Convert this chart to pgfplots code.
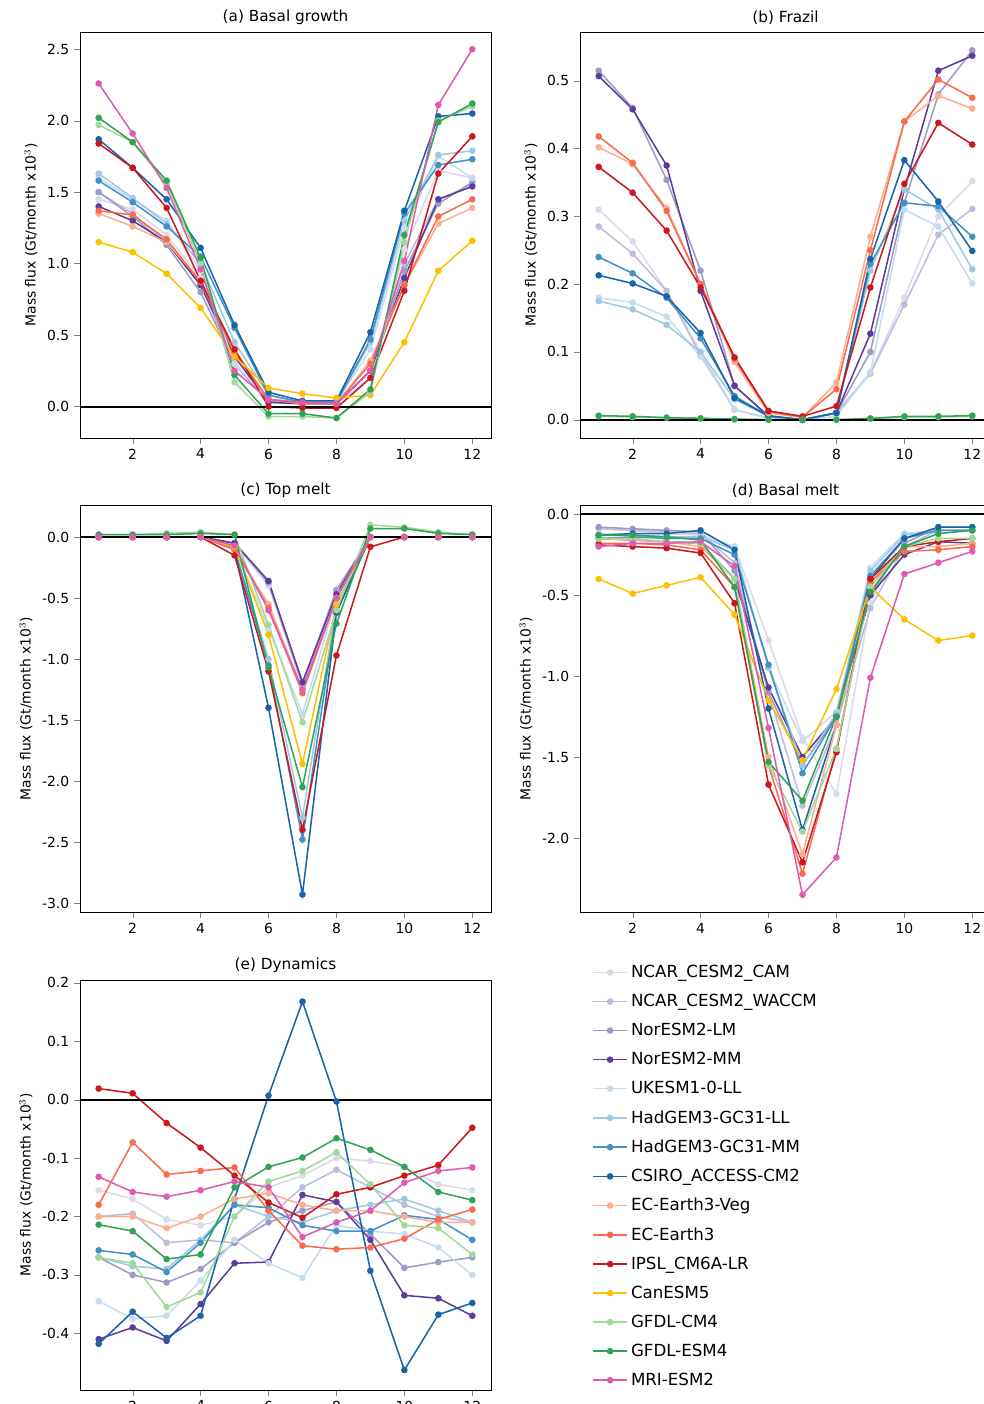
\documentclass[border=0pt]{standalone}
\usepackage{pgfplots}
\pgfplotsset{compat=1.18}
\usepackage{fontspec}
\setmainfont{DejaVu Sans}
\definecolor{c1}{HTML}{DADAEB}\definecolor{c2}{HTML}{BCBDDC}\definecolor{c3}{HTML}{9E9AC8}\definecolor{c4}{HTML}{5E3C99}
\definecolor{c5}{HTML}{C6DBEF}\definecolor{c6}{HTML}{9ECAE1}\definecolor{c7}{HTML}{4292C6}\definecolor{c8}{HTML}{1764AB}
\definecolor{c9}{HTML}{FCAE91}\definecolor{c10}{HTML}{FB6A4A}\definecolor{c11}{HTML}{CB181D}\definecolor{c12}{HTML}{FFBF00}
\definecolor{c13}{HTML}{A1D99B}\definecolor{c14}{HTML}{31A354}\definecolor{c15}{HTML}{DD5CB0}
\pgfplotscreateplotcyclelist{mods}{
c1,mark=*\\c2,mark=*\\c3,mark=*\\c4,mark=*\\c5,mark=*\\c6,mark=*\\c7,mark=*\\c8,mark=*\\
c9,mark=*\\c10,mark=*\\c11,mark=*\\c12,mark=*\\c13,mark=*\\c14,mark=*\\c15,mark=*\\}
\newcommand\D[1]{\addplot table[header=false,x expr=\coordindex+1,y index=0,row sep=\\]{#1};}
\newcommand\E[2]{\addplot[#1,mark=*] table[header=false,x expr=\coordindex+1,y index=0,row sep=\\]{#2};}
\pgfplotsset{
 base/.style={scale only axis, width=295.9pt, anchor=south west, xmin=0.45, xmax=12.55,
 xtick={2,4,...,12}, cycle list name=mods, every axis plot/.append style={line width=1.1pt, mark size=1.8pt},
 /pgf/number format/assume math mode=true, tick label style={font=\fontsize{10}{12}\selectfont},
 title style={font=\fontsize{11}{13}\selectfont, yshift=-4pt},
 label style={font=\fontsize{10}{12}\selectfont},
 ylabel={Mass flux (Gt/month x10$^3$)}, tick align=outside, tick pos=left,
 execute at end axis={\draw[black,line width=1.4pt] ({rel axis cs:0,0}|-{axis cs:1,0}) -- ({rel axis cs:1,0}|-{axis cs:1,0});}}}
\begin{document}
\begin{tikzpicture}
\useasboundingbox (0,0) rectangle (708.48pt,1010.88pt);
% (a)
\begin{axis}[base, at={(57.6pt,695.5pt)}, height=292.3pt, ymin=-0.22, ymax=2.62, ytick={0,0.5,...,2.5},
 yticklabel style={/pgf/number format/.cd,fixed,fixed zerofill,precision=1}, title={(a) Basal growth}]
\D{1.45\\1.38\\1.2\\0.9\\0.3\\0.05\\0.02\\0.02\\0.2\\1.1\\1.65\\1.6\\}
\D{1.5\\1.35\\1.15\\0.85\\0.3\\0.04\\0.02\\0.02\\0.25\\1.0\\1.45\\1.55\\}
\D{1.5\\1.33\\1.13\\0.8\\0.3\\0.03\\0.02\\0.02\\0.25\\0.95\\1.42\\1.57\\}
\D{1.4\\1.3\\1.15\\0.85\\0.35\\0.03\\0.02\\0.02\\0.25\\0.9\\1.45\\1.54\\}
\D{1.6\\1.45\\1.3\\0.95\\0.3\\0.05\\0.03\\0.03\\0.4\\1.25\\1.75\\1.6\\}
\D{1.63\\1.46\\1.28\\1.0\\0.45\\0.08\\0.03\\0.03\\0.45\\1.3\\1.76\\1.79\\}
\D{1.58\\1.43\\1.26\\1.05\\0.55\\0.08\\0.03\\0.03\\0.47\\1.35\\1.69\\1.73\\}
\D{1.87\\1.67\\1.45\\1.11\\0.57\\0.1\\0.04\\0.04\\0.52\\1.37\\2.03\\2.05\\}
\D{1.35\\1.26\\1.15\\0.88\\0.4\\0.05\\0.02\\0.02\\0.32\\0.85\\1.28\\1.39\\}
\D{1.37\\1.34\\1.17\\0.87\\0.38\\0.05\\0.02\\0.02\\0.3\\0.85\\1.33\\1.45\\}
\D{1.84\\1.67\\1.39\\0.88\\0.4\\0.0\\-0.01\\-0.01\\0.2\\0.81\\1.63\\1.89\\}
\D{1.15\\1.08\\0.93\\0.69\\0.35\\0.13\\0.09\\0.06\\0.08\\0.45\\0.95\\1.16\\}
\D{1.97\\1.85\\1.56\\1.0\\0.17\\-0.07\\-0.07\\-0.08\\0.1\\1.15\\2.0\\2.1\\}
\D{2.02\\1.85\\1.58\\1.04\\0.22\\-0.05\\-0.05\\-0.08\\0.12\\1.2\\1.99\\2.12\\}
\D{2.26\\1.91\\1.53\\0.96\\0.25\\0.05\\0.03\\0.02\\0.25\\1.02\\2.11\\2.5\\}
\end{axis}
% (b)
\begin{axis}[base, at={(417.6pt,695.5pt)}, height=292.3pt, ymin=-0.027, ymax=0.572, ytick={0,0.1,...,0.5},
 yticklabel style={/pgf/number format/.cd,fixed,fixed zerofill,precision=1}, title={(b) Frazil}]
\D{0.31\\0.263\\0.19\\0.1\\0.015\\0.002\\0\\0.01\\0.07\\0.18\\0.3\\0.352\\}
\D{0.285\\0.245\\0.19\\0.095\\0.015\\0.002\\0\\0.01\\0.068\\0.17\\0.273\\0.311\\}
\D{0.515\\0.46\\0.354\\0.22\\0.05\\0.005\\0\\0.01\\0.1\\0.32\\0.48\\0.545\\}
\D{0.507\\0.458\\0.375\\0.19\\0.05\\0.005\\0\\0.01\\0.127\\0.34\\0.515\\0.537\\}
\D{0.18\\0.173\\0.152\\0.093\\0.015\\0.002\\0\\0.005\\0.07\\0.31\\0.285\\0.201\\}
\D{0.175\\0.163\\0.14\\0.1\\0.03\\0.005\\0\\0.01\\0.22\\0.34\\0.31\\0.222\\}
\D{0.24\\0.216\\0.18\\0.12\\0.035\\0.005\\0\\0.01\\0.23\\0.32\\0.315\\0.27\\}
\D{0.213\\0.201\\0.182\\0.128\\0.032\\0.006\\0\\0.01\\0.237\\0.383\\0.322\\0.249\\}
\D{0.402\\0.377\\0.312\\0.2\\0.085\\0.01\\0.003\\0.055\\0.27\\0.44\\0.478\\0.459\\}
\D{0.418\\0.379\\0.308\\0.2\\0.09\\0.012\\0.004\\0.045\\0.25\\0.44\\0.502\\0.475\\}
\D{0.373\\0.335\\0.279\\0.195\\0.092\\0.013\\0.005\\0.02\\0.195\\0.348\\0.438\\0.406\\}
\E{c13}{0.005\\0.004\\0.003\\0.002\\0\\0\\0\\0\\0.001\\0.004\\0.004\\0.005\\}
\E{c14}{0.006\\0.005\\0.003\\0.002\\0.001\\0\\0\\0\\0.002\\0.005\\0.005\\0.006\\}
\end{axis}
% (c)
\begin{axis}[base, at={(57.6pt,354.2pt)}, height=293pt, ymin=-3.074, ymax=0.262, ytick={-3,-2.5,...,0},
 yticklabel style={/pgf/number format/.cd,fixed,fixed zerofill,precision=1}, title={(c) Top melt}]
\D{0\\0\\0\\0\\-0.05\\-0.4\\-1.2\\-0.45\\0\\0\\0\\0\\}
\D{0\\0\\0\\0\\-0.05\\-0.38\\-1.22\\-0.43\\0\\0\\0\\0\\}
\D{0\\0\\0\\0\\-0.05\\-0.37\\-1.2\\-0.44\\0\\0\\0\\0\\}
\D{0\\0\\0\\0\\-0.05\\-0.36\\-1.19\\-0.47\\0\\0\\0\\0\\}
\D{0\\0\\0\\0\\-0.08\\-0.75\\-1.45\\-0.5\\0\\0\\0\\0\\}
\D{0\\0\\0\\0\\-0.1\\-1.0\\-2.3\\-0.55\\0\\0\\0\\0\\}
\D{0\\0\\0\\0\\-0.1\\-1.05\\-2.48\\-0.6\\0\\0\\0\\0\\}
\D{0\\0\\0\\0\\-0.1\\-1.4\\-2.93\\-0.62\\0\\0\\0\\0\\}
\D{0\\0\\0\\0\\-0.1\\-0.55\\-1.25\\-0.5\\0\\0\\0\\0\\}
\D{0\\0\\0\\0\\-0.1\\-0.58\\-1.28\\-0.5\\0\\0\\0\\0\\}
\D{0\\0\\0\\0\\-0.15\\-1.1\\-2.4\\-0.97\\-0.08\\0\\0\\0\\}
\D{0\\0\\0\\0\\-0.08\\-0.8\\-1.86\\-0.55\\0\\0\\0\\0\\}
\D{0.02\\0.02\\0.03\\0.04\\0.02\\-0.72\\-1.52\\-0.6\\0.1\\0.08\\0.04\\0.02\\}
\D{0.02\\0.02\\0.02\\0.03\\0.02\\-1.07\\-2.05\\-0.71\\0.07\\0.07\\0.03\\0.02\\}
\D{0\\0\\0\\0\\-0.07\\-0.6\\-1.25\\-0.5\\0\\0\\0\\0\\}
\end{axis}
% (d)
\begin{axis}[base, at={(417.6pt,354.2pt)}, height=293pt, ymin=-2.457, ymax=0.056, ytick={-2,-1.5,...,0},
 yticklabel style={/pgf/number format/.cd,fixed,fixed zerofill,precision=1}, title={(d) Basal melt}]
\D{-0.09\\-0.1\\-0.12\\-0.13\\-0.2\\-0.78\\-1.38\\-1.73\\-0.55\\-0.12\\-0.1\\-0.1\\}
\D{-0.09\\-0.1\\-0.11\\-0.12\\-0.3\\-1.1\\-1.8\\-1.3\\-0.58\\-0.2\\-0.1\\-0.1\\}
\D{-0.08\\-0.09\\-0.1\\-0.11\\-0.35\\-1.1\\-1.55\\-1.25\\-0.5\\-0.18\\-0.08\\-0.08\\}
\D{-0.15\\-0.16\\-0.17\\-0.18\\-0.4\\-1.07\\-1.5\\-1.25\\-0.5\\-0.25\\-0.17\\-0.18\\}
\D{-0.12\\-0.13\\-0.14\\-0.14\\-0.2\\-0.95\\-1.4\\-1.22\\-0.33\\-0.12\\-0.1\\-0.1\\}
\D{-0.13\\-0.13\\-0.14\\-0.14\\-0.22\\-0.95\\-1.55\\-1.23\\-0.35\\-0.13\\-0.1\\-0.1\\}
\D{-0.15\\-0.14\\-0.15\\-0.15\\-0.25\\-0.93\\-1.6\\-1.25\\-0.38\\-0.15\\-0.1\\-0.1\\}
\D{-0.13\\-0.12\\-0.12\\-0.1\\-0.22\\-1.2\\-1.95\\-1.3\\-0.4\\-0.15\\-0.08\\-0.08\\}
\D{-0.15\\-0.16\\-0.17\\-0.2\\-0.4\\-1.5\\-2.1\\-1.3\\-0.42\\-0.2\\-0.2\\-0.18\\}
\D{-0.18\\-0.18\\-0.19\\-0.22\\-0.45\\-1.55\\-2.22\\-1.45\\-0.42\\-0.23\\-0.22\\-0.2\\}
\D{-0.19\\-0.2\\-0.21\\-0.24\\-0.55\\-1.67\\-2.15\\-1.47\\-0.4\\-0.2\\-0.17\\-0.15\\}
\D{-0.4\\-0.49\\-0.44\\-0.39\\-0.62\\-1.15\\-1.52\\-1.08\\-0.45\\-0.65\\-0.78\\-0.75\\}
\D{-0.15\\-0.15\\-0.17\\-0.18\\-0.4\\-1.55\\-1.96\\-1.45\\-0.45\\-0.2\\-0.15\\-0.15\\}
\D{-0.13\\-0.13\\-0.14\\-0.16\\-0.45\\-1.53\\-1.77\\-1.25\\-0.48\\-0.2\\-0.12\\-0.1\\}
\D{-0.2\\-0.18\\-0.18\\-0.17\\-0.32\\-1.32\\-2.35\\-2.12\\-1.01\\-0.37\\-0.3\\-0.23\\}
\end{axis}
% (e)
\begin{axis}[base, at={(57.6pt,10.1pt)}, height=295.2pt, ymin=-0.497, ymax=0.205, ytick={-0.4,-0.3,...,0.2},
 yticklabel style={/pgf/number format/.cd,fixed,fixed zerofill,precision=1}, title={(e) Dynamics},
 legend style={at={(1.235,1.05)}, anchor=north west, draw=none, fill=none, font=\fontsize{12}{14}\selectfont, row sep=6.5pt},
 legend cell align=left,
 legend image code/.code={\draw[#1] (0pt,0pt) -- (25pt,0pt); \draw[#1,only marks] plot coordinates {(12.5pt,0pt)};},
 legend entries={NCAR\_CESM2\_CAM,NCAR\_CESM2\_WACCM,NorESM2-LM,NorESM2-MM,UKESM1-0-LL,HadGEM3-GC31-LL,HadGEM3-GC31-MM,CSIRO\_ACCESS-CM2,EC-Earth3-Veg,EC-Earth3,IPSL\_CM6A-LR,CanESM5,GFDL-CM4,GFDL-ESM4,MRI-ESM2}]
\D{-0.155\\-0.17\\-0.205\\-0.215\\-0.2\\-0.15\\-0.13\\-0.1\\-0.105\\-0.115\\-0.145\\-0.155\\}
\D{-0.2\\-0.195\\-0.245\\-0.24\\-0.245\\-0.2\\-0.15\\-0.12\\-0.15\\-0.18\\-0.2\\-0.21\\}
\D{-0.27\\-0.3\\-0.313\\-0.29\\-0.245\\-0.21\\-0.19\\-0.175\\-0.23\\-0.288\\-0.278\\-0.27\\}
\D{-0.41\\-0.39\\-0.413\\-0.35\\-0.28\\-0.278\\-0.163\\-0.175\\-0.24\\-0.335\\-0.34\\-0.37\\}
\D{-0.345\\-0.375\\-0.37\\-0.31\\-0.24\\-0.28\\-0.305\\-0.215\\-0.225\\-0.23\\-0.253\\-0.3\\}
\D{-0.27\\-0.285\\-0.29\\-0.24\\-0.18\\-0.2\\-0.21\\-0.19\\-0.18\\-0.17\\-0.19\\-0.21\\}
\D{-0.258\\-0.265\\-0.295\\-0.245\\-0.18\\-0.185\\-0.215\\-0.225\\-0.225\\-0.198\\-0.205\\-0.24\\}
\D{-0.418\\-0.363\\-0.408\\-0.37\\-0.17\\0.007\\0.168\\-0.003\\-0.293\\-0.463\\-0.368\\-0.348\\}
\D{-0.2\\-0.2\\-0.22\\-0.2\\-0.17\\-0.16\\-0.18\\-0.19\\-0.19\\-0.2\\-0.21\\-0.21\\}
\D{-0.18\\-0.073\\-0.128\\-0.122\\-0.116\\-0.19\\-0.25\\-0.256\\-0.253\\-0.238\\-0.205\\-0.188\\}
\D{0.019\\0.011\\-0.04\\-0.082\\-0.13\\-0.176\\-0.202\\-0.162\\-0.15\\-0.13\\-0.112\\-0.048\\}
\addlegendimage{c12,mark=*,line width=1.1pt,mark size=1.8pt}
\E{c13}{-0.27\\-0.28\\-0.355\\-0.33\\-0.2\\-0.14\\-0.122\\-0.09\\-0.145\\-0.215\\-0.22\\-0.265\\}
\E{c14}{-0.214\\-0.225\\-0.273\\-0.265\\-0.15\\-0.115\\-0.099\\-0.066\\-0.086\\-0.115\\-0.158\\-0.172\\}
\E{c15}{-0.132\\-0.158\\-0.166\\-0.155\\-0.14\\-0.15\\-0.235\\-0.21\\-0.19\\-0.142\\-0.122\\-0.116\\}
\end{axis}
\end{tikzpicture}
\end{document}
